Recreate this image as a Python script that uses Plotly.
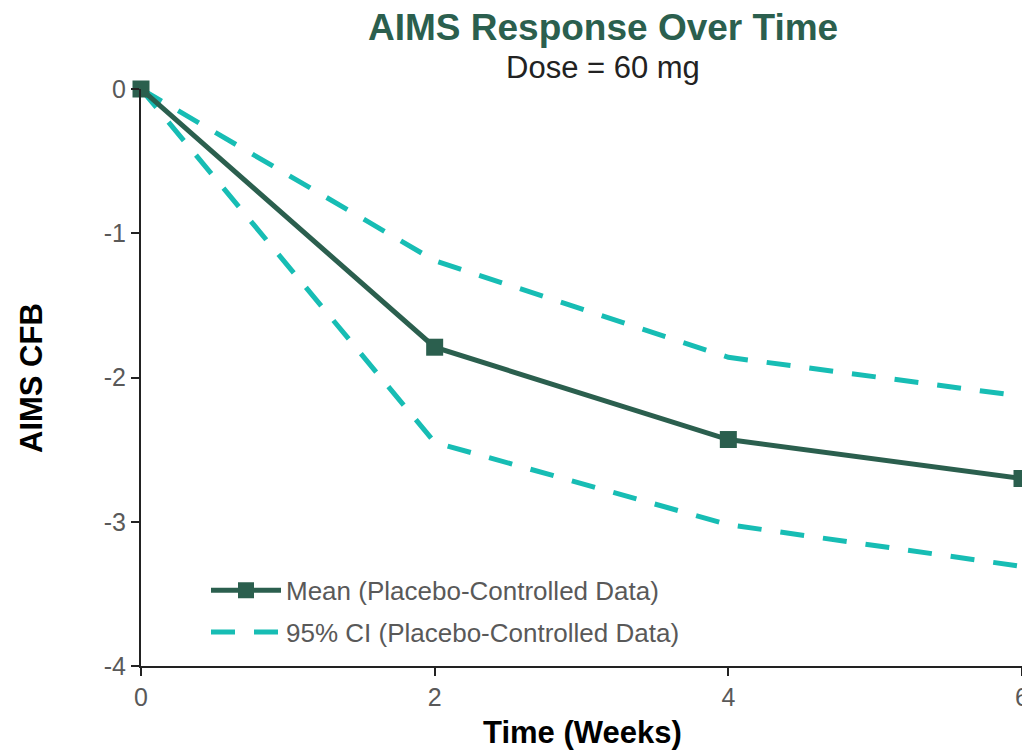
import plotly.graph_objects as go

weeks = [0, 2, 4, 6]
mean_cfb = [0, -1.79, -2.43, -2.70]
ci_upper = [0, -1.19, -1.86, -2.13]
ci_lower = [0, -2.45, -3.02, -3.31]
y_ticks = [0, -1, -2, -3, -4]
y_tick_text = ["0", "-1", "-2", "-3", "-4"]
x_ticks = [0, 2, 4, 6]

dark = "#2B5F4E"
teal = "#17BDB4"
font = "Liberation Sans, Arial, sans-serif"

# page body has an 8px margin; compensate
OFF = 8
W, H = 1030 - OFF, 752 - OFF
l, r, t = 141 - OFF, 8, 89 - OFF
b = H - t - 577

fig = go.Figure()
fig.add_trace(go.Scatter(x=weeks, y=ci_upper, mode="lines",
                         line=dict(color=teal, width=5, dash="24px,19px"),
                         name="95% CI (Placebo-Controlled Data)", legendgroup="b", legendrank=2))
fig.add_trace(go.Scatter(x=weeks, y=ci_lower, mode="lines",
                         line=dict(color=teal, width=5, dash="24px,19px"),
                         name="95% CI lower", showlegend=False, legendgroup="b", legendrank=3))
fig.add_trace(go.Scatter(x=weeks, y=mean_cfb, mode="lines+markers",
                         line=dict(color=dark, width=5),
                         marker=dict(symbol="square", size=17, color=dark),
                         name="Mean (Placebo-Controlled Data)", legendgroup="a", legendrank=1))

fig.update_layout(
    width=W, height=H,
    margin=dict(l=l, r=r, t=t, b=b),
    plot_bgcolor="white", paper_bgcolor="white",
    font=dict(family=font, color="#595959", size=25),
    xaxis=dict(range=[0, 6], tickvals=x_ticks, showgrid=False, zeroline=False,
               showline=True, linecolor="#222", linewidth=2, ticks="outside",
               ticklen=8, tickcolor="#222", tickwidth=2, automargin=False,
               tickfont=dict(size=25, color="#595959")),
    yaxis=dict(range=[-4, 0], tickvals=y_ticks, ticktext=y_tick_text, showgrid=False, zeroline=False,
               showline=True, linecolor="#222", linewidth=2, ticks="outside",
               ticklen=8, tickcolor="#222", tickwidth=2, automargin=False,
               tickfont=dict(size=25, color="#595959")),
    legend=dict(x=(198 - l) / 881, y=0.172, xanchor="left", yanchor="top", bgcolor="rgba(0,0,0,0)",
                font=dict(size=26, color="#595959"), itemwidth=70, tracegroupgap=5,
                traceorder="grouped"),
    annotations=[
        dict(text="<b>AIMS Response Over Time</b>", x=603, y=27,
             font=dict(size=37, color=dark, family=font)),
        dict(text="Dose = 60 mg", x=603, y=67,
             font=dict(size=31, color="#222", family=font)),
        dict(text="<b>Time (Weeks)</b>", x=582, y=732,
             font=dict(size=31, color="black", family=font)),
        dict(text="<b>AIMS CFB</b>", x=31, y=378, textangle=-90,
             font=dict(size=31, color="black", family=font)),
    ],
)
pw, ph = W - l - r, H - t - b
for a in fig.layout.annotations:
    px, py = a.x - OFF, a.y - OFF
    a.xref = "paper"; a.yref = "paper"; a.showarrow = False
    a.x = (px - l) / pw
    a.y = (H - b - py) / ph
    a.xanchor = "center"; a.yanchor = "middle"
fig.update_traces(cliponaxis=False)
fig.write_html("out.html")
